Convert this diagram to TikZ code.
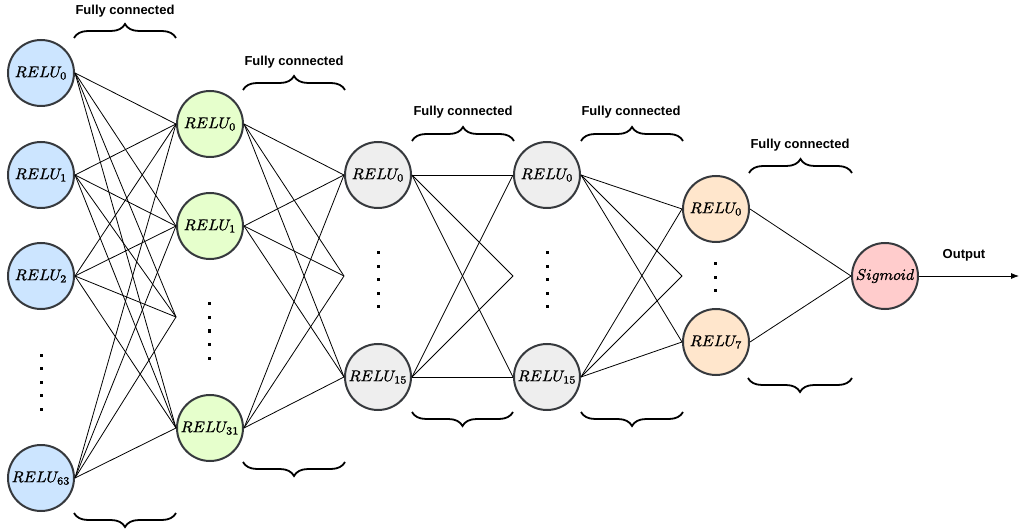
\documentclass[tikz,border=0pt]{standalone}
\usepackage{graphicx}
\usepackage{fontspec}
\newfontfamily\labfont{Liberation Sans}
\usetikzlibrary{arrows.meta,decorations.pathreplacing}
\definecolor{cborder}{HTML}{36393D}
\definecolor{cblue}{HTML}{CCE5FF}
\definecolor{cgreen}{HTML}{E6FFCC}
\definecolor{cgray}{HTML}{EEEEEE}
\definecolor{corange}{HTML}{FFE6CC}
\definecolor{cpink}{HTML}{FFCCCC}
\newcommand{\nlab}[1]{\special{pdf:literal direct 2 Tr 0.12 w}\scalebox{1.55}{$#1$}\special{pdf:literal direct 0 Tr}}
\begin{document}
\begin{tikzpicture}[x=1pt,y=-1pt,
  neuron/.style={circle,draw=cborder,line width=2pt,minimum size=66pt,inner sep=0pt,
    font=\fontsize{10}{12}\selectfont,text=black},
  conn/.style={line width=0.8pt,black},
  brc/.style={decorate,decoration={brace,amplitude=14pt},line width=1.8pt},
  lbl/.style={font=\labfont\bfseries\fontsize{13}{15}\selectfont,inner sep=0pt},
  dotsq/.style={fill=black},
]
\useasboundingbox (0,0) rectangle (1020,529);

% layer 1
\node[neuron,fill=cblue] (a0) at (41,73) {\nlab{RELU_0}};
\node[neuron,fill=cblue] (a1) at (41,175) {\nlab{RELU_1}};
\node[neuron,fill=cblue] (a2) at (41,276) {\nlab{RELU_2}};
\node[neuron,fill=cblue] (a3) at (41,478) {\nlab{RELU_{63}}};
% layer 2
\node[neuron,fill=cgreen] (b0) at (210,124) {\nlab{RELU_0}};
\node[neuron,fill=cgreen] (b1) at (210,226) {\nlab{RELU_1}};
\node[neuron,fill=cgreen] (b3) at (210,428) {\nlab{RELU_{31}}};
\coordinate (b2) at (176,317);
% layer 3
\node[neuron,fill=cgray] (c0) at (378,175) {\nlab{RELU_0}};
\node[neuron,fill=cgray] (c2) at (378,377) {\nlab{RELU_{15}}};
\coordinate (c1) at (344,276);
% layer 4
\node[neuron,fill=cgray] (d0) at (547,175) {\nlab{RELU_0}};
\node[neuron,fill=cgray] (d2) at (547,377) {\nlab{RELU_{15}}};
\coordinate (d1) at (513,276);
% layer 5
\node[neuron,fill=corange] (e0) at (716,209) {\nlab{RELU_0}};
\node[neuron,fill=corange] (e2) at (716,342) {\nlab{RELU_7}};
\coordinate (e1) at (682,276);
% output
\node[neuron,fill=cpink] (s) at (885,276) {\nlab{Sigmoid}};
\coordinate (outend) at (1019,276);

% dots
\foreach \y in {355,368.5,382,395.5,409} \fill[dotsq] (39.5,\y-1.5) rectangle ++(3,3);
\foreach \y in {304,317.5,331,344.5,358} \fill[dotsq] (207.5,\y-1.5) rectangle ++(3,3);
\foreach \y in {253,266.5,280,293.5,307} {\fill[dotsq] (376.5,\y-1.5) rectangle ++(3,3);
  \fill[dotsq] (545.5,\y-1.5) rectangle ++(3,3);}
\foreach \y in {264,277.5,291} \fill[dotsq] (714,\y-1.5) rectangle ++(3,3);

% connections
\foreach \s in {a0,a1,a2,a3} {
  \foreach \t in {b0,b1,b3} \draw[conn] (\s.east) -- (\t.west);
  \draw[conn] (\s.east) -- (b2);
}
\foreach \s in {b0,b1,b3} {
  \foreach \t in {c0,c2} \draw[conn] (\s.east) -- (\t.west);
  \draw[conn] (\s.east) -- (c1);
}
\foreach \s in {c0,c2} {
  \foreach \t in {d0,d2} \draw[conn] (\s.east) -- (\t.west);
  \draw[conn] (\s.east) -- (d1);
}
\foreach \s in {d0,d2} {
  \foreach \t in {e0,e2} \draw[conn] (\s.east) -- (\t.west);
  \draw[conn] (\s.east) -- (e1);
}
\foreach \s in {e0,e2} \draw[conn] (\s.east) -- (s.west);
\draw[conn,-{Latex[length=8pt,width=6pt]}] (s.east) -- (outend);
\node[lbl] (outl) at (964,255) {Output};

% top braces
\draw[brc] (74,38) -- (176,38);
\draw[brc] (243,90) -- (345,90);
\draw[brc] (412,141) -- (514,141);
\draw[brc] (581,141) -- (683,141);
\draw[brc] (749,173) -- (852,173);
\node[lbl] (l1) at (125,11) {Fully connected};
\node[lbl] (l2) at (294,62) {Fully connected};
\node[lbl] (l3) at (463,112) {Fully connected};
\node[lbl] (l4) at (631,112) {Fully connected};
\node[lbl] (l5) at (800,145) {Fully connected};

% bottom braces
\draw[brc] (176,513) -- (74,513);
\draw[brc] (345,462) -- (243,462);
\draw[brc] (513,412) -- (412,412);
\draw[brc] (683,412) -- (581,412);
\draw[brc] (852,378) -- (748,378);
\end{tikzpicture}
\end{document}
